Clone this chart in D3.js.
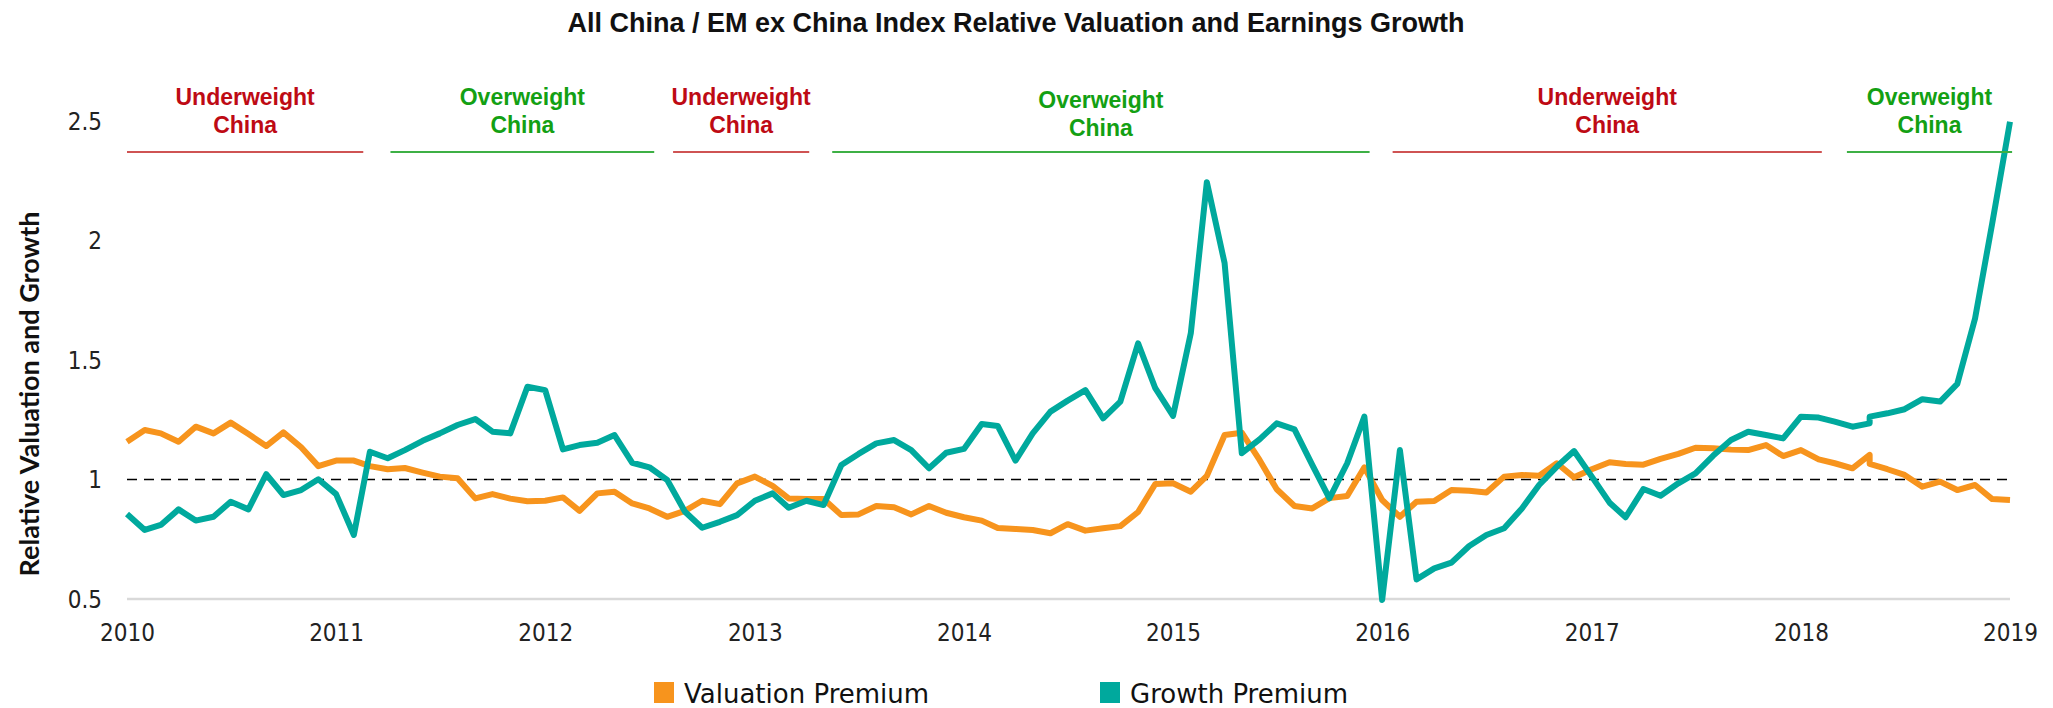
<!DOCTYPE html>
<html>
<head>
<meta charset="utf-8">
<script src="https://cdn.jsdelivr.net/npm/d3@7"></script>
<style>
  html, body { margin: 0; padding: 0; background: #fff; }
  svg { display: block; }
</style>
</head>
<body>
<svg id="chart" width="2053" height="708"></svg>
<script>
// ---------- DATA ----------
const chartTitle = "All China / EM ex China Index Relative Valuation and Earnings Growth";
const yAxisTitle = "Relative Valuation and Growth";
const seriesNames = ["Valuation Premium", "Growth Premium"];
const yTicks = [0.5, 1, 1.5, 2, 2.5];
const yTickLabels = ["0.5", "1", "1.5", "2", "2.5"];

// monthly observations Jan 2010 .. Jan 2019 (May 2018 reported twice)
const valuation = [
  1.158, 1.207, 1.193, 1.158, 1.221, 1.193, 1.238, 1.190, 1.140, 1.197, 1.135, 1.056,
  1.079, 1.079, 1.056, 1.043, 1.048, 1.029, 1.012, 1.005, 0.921, 0.939, 0.920, 0.909,
  0.911, 0.925, 0.869, 0.942, 0.949, 0.900, 0.879, 0.844, 0.869, 0.911, 0.897, 0.984,
  1.012, 0.973, 0.921, 0.918, 0.918, 0.851, 0.854, 0.889, 0.884, 0.854, 0.889, 0.861,
  0.842, 0.828, 0.797, 0.793, 0.789, 0.775, 0.813, 0.786, 0.796, 0.805, 0.864, 0.981,
  0.984, 0.949, 1.015, 1.186, 1.196, 1.082, 0.959, 0.889, 0.879, 0.922, 0.931, 1.051,
  0.914, 0.844, 0.907, 0.910, 0.956, 0.953, 0.946, 1.012, 1.019, 1.016, 1.068, 1.009,
  1.043, 1.072, 1.065, 1.062, 1.086, 1.107, 1.133, 1.131, 1.125, 1.123, 1.144, 1.098,
  1.123, 1.084, 1.068, 1.047, 1.103, 1.065, 1.043, 1.019, 0.970, 0.991, 0.956, 0.977,
  0.918, 0.914
];
const growth = [
  0.856, 0.789, 0.810, 0.875, 0.828, 0.844, 0.907, 0.875, 1.022, 0.935, 0.956, 1.001,
  0.939, 0.768, 1.116, 1.089, 1.123, 1.162, 1.193, 1.228, 1.253, 1.200, 1.193, 1.388,
  1.374, 1.126, 1.144, 1.154, 1.186, 1.070, 1.051, 0.998, 0.865, 0.798, 0.823, 0.851,
  0.911, 0.942, 0.882, 0.911, 0.893, 1.061, 1.107, 1.151, 1.165, 1.123, 1.047, 1.112,
  1.128, 1.232, 1.224, 1.079, 1.193, 1.284, 1.330, 1.374, 1.256, 1.326, 1.570, 1.382,
  1.266, 1.612, 2.244, 1.905, 1.110, 1.168, 1.235, 1.210, 1.061, 0.921, 1.068, 1.263,
  0.496, 1.123, 0.582, 0.628, 0.652, 0.722, 0.768, 0.796, 0.879, 0.977, 1.054, 1.119,
  1.012, 0.903, 0.842, 0.960, 0.932, 0.984, 1.026, 1.100, 1.165, 1.200, 1.186, 1.172,
  1.263, 1.259, 1.242, 1.221, 1.235, 1.263, 1.277, 1.294, 1.336, 1.326, 1.400, 1.674,
  2.072, 2.497
];

// positioning calls (decimal years)
const phaseLabels = ["Underweight", "Overweight", "Underweight", "Overweight", "Underweight", "Overweight"];
const phaseSubLabel = "China";
const phaseType = ["under", "over", "under", "over", "under", "over"];
const phaseStart = [2010.00, 2011.26, 2012.61, 2013.37, 2016.05, 2018.22];
const phaseEnd   = [2011.13, 2012.52, 2013.26, 2015.94, 2018.10, 2019.01];

// ---------- DATES ----------
const dates = d3.timeMonth.range(new Date(2010, 0, 1), new Date(2019, 1, 1));
dates.splice(101, 0, dates[100]); // duplicated May 2018 observation

// ---------- LAYOUT ----------
const svg = d3.select("#chart");
const W = 2053, H = 708;
const plot = { left: 127, right: 2010, top: 121, bottom: 599 };

const x = d3.scaleTime()
  .domain([new Date(2010, 0, 1), new Date(2019, 0, 1)])
  .range([plot.left, plot.right]);
const y = d3.scaleLinear().domain([0.5, 2.5]).range([plot.bottom, plot.top]);

function decYear(v) {
  const yr = Math.floor(v);
  const a = new Date(yr, 0, 1), b = new Date(yr + 1, 0, 1);
  return new Date(+a + (v - yr) * (b - a));
}

const colors = { valuation: "#F7941D", growth: "#00A99D" };

svg.append("rect").attr("width", W).attr("height", H).attr("fill", "#fff");

// title
svg.append("text")
  .attr("x", 1016).attr("y", 32)
  .attr("text-anchor", "middle")
  .attr("font-family", "'Liberation Sans', Arial, sans-serif")
  .attr("font-weight", 700)
  .attr("font-size", 27)
  .attr("fill", "#111")
  .text(chartTitle);

// baseline gridline at 0.5
svg.append("line")
  .attr("x1", plot.left).attr("x2", plot.right)
  .attr("y1", y(0.5)).attr("y2", y(0.5))
  .attr("stroke", "#d9d9d9").attr("stroke-width", 2.5);

// y axis (labels only)
const yAxis = d3.axisLeft(y)
  .tickValues(yTicks)
  .tickFormat((d, i) => yTickLabels[i])
  .tickSize(0).tickPadding(0);
const gy = svg.append("g").attr("transform", `translate(${plot.left - 25},0)`).call(yAxis);
gy.select(".domain").remove();
gy.selectAll("text")
  .attr("font-family", "'Liberation Sans Narrow', 'DejaVu Sans Condensed', sans-serif")
  .attr("font-size", 24).attr("fill", "#222").attr("dy", "0.35em");

// x axis (labels only)
const xAxis = d3.axisBottom(x)
  .ticks(d3.timeYear.every(1))
  .tickFormat(d3.timeFormat("%Y"))
  .tickSize(0).tickPadding(0);
const gx = svg.append("g").attr("transform", `translate(0,${plot.bottom + 25})`).call(xAxis);
gx.select(".domain").remove();
gx.selectAll("text")
  .attr("font-family", "'Liberation Sans Narrow', 'DejaVu Sans Condensed', sans-serif")
  .attr("font-size", 24).attr("fill", "#222").attr("dy", "0.71em");

// y axis title
svg.append("text")
  .attr("transform", `translate(39,${394}) rotate(-90)`)
  .attr("text-anchor", "middle")
  .attr("font-family", "Lato, 'Open Sans', sans-serif")
  .attr("font-weight", 700)
  .attr("font-size", 27)
  .attr("fill", "#111")
  .text(yAxisTitle);

// reference dashed line at 1
svg.append("line")
  .attr("x1", plot.left).attr("x2", plot.right)
  .attr("y1", y(1)).attr("y2", y(1))
  .attr("stroke", "#000").attr("stroke-width", 1.6)
  .attr("stroke-dasharray", "10,7");

// series lines
const line = d3.line().x((d, i) => x(dates[i])).y(d => y(d));
svg.append("path").datum(valuation)
  .attr("d", line).attr("fill", "none")
  .attr("stroke", colors.valuation).attr("stroke-width", 6)
  .attr("stroke-linejoin", "round");
svg.append("path").datum(growth)
  .attr("d", line).attr("fill", "none")
  .attr("stroke", colors.growth).attr("stroke-width", 6)
  .attr("stroke-linejoin", "round");

// positioning annotations
const phaseText = { under: "#BE0A14", over: "#13A013" };
const phaseLine = { under: "#CF5353", over: "#3DB045" };
phaseLabels.forEach((lab, i) => {
  const x0 = x(decYear(phaseStart[i])), x1 = x(decYear(phaseEnd[i]));
  const cx = (x0 + x1) / 2;
  const off = (i === 3) ? 3 : 0;
  const g = svg.append("g");
  g.append("line")
    .attr("x1", x0).attr("x2", x1).attr("y1", 152).attr("y2", 152)
    .attr("stroke", phaseLine[phaseType[i]]).attr("stroke-width", 2);
  const t = g.append("text")
    .attr("text-anchor", "middle")
    .attr("font-family", "'Liberation Sans', Arial, sans-serif")
    .attr("font-weight", 700).attr("font-size", 23)
    .attr("fill", phaseText[phaseType[i]]);
  t.append("tspan").attr("x", cx).attr("y", 105 + off).text(lab);
  t.append("tspan").attr("x", cx).attr("y", 133 + off).text(phaseSubLabel);
});

// legend
const legendX = [654, 1100];
const legendColors = [colors.valuation, colors.growth];
seriesNames.forEach((name, i) => {
  svg.append("rect")
    .attr("x", legendX[i]).attr("y", 682).attr("width", 20).attr("height", 21)
    .attr("fill", legendColors[i]);
  svg.append("text")
    .attr("x", legendX[i] + 30).attr("y", 703)
    .attr("font-family", "'DejaVu Sans', sans-serif")
    .attr("font-size", 26).attr("fill", "#111")
    .text(name);
});
</script>
</body>
</html>
